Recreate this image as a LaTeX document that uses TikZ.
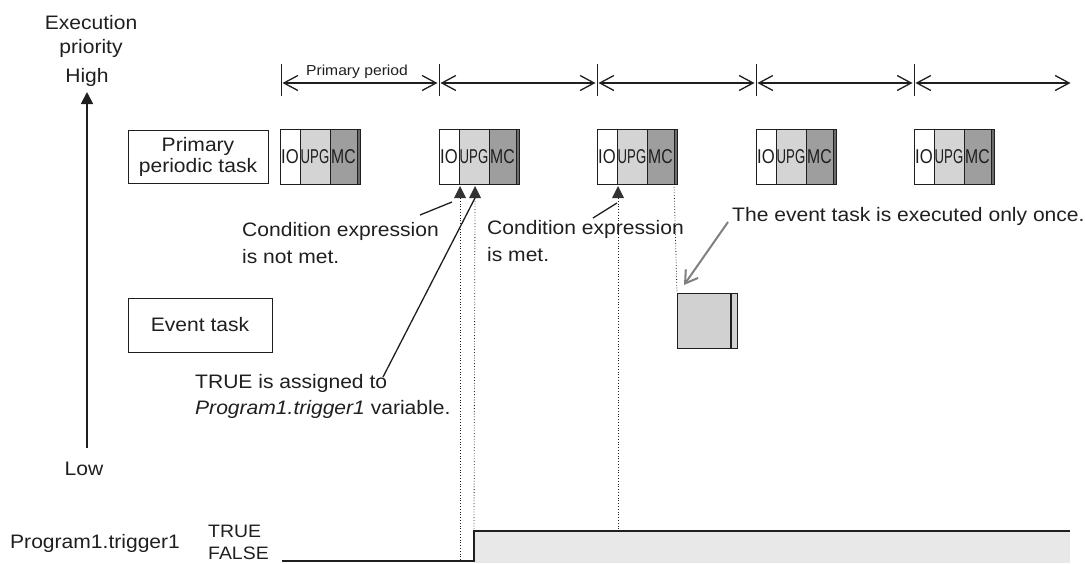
\documentclass[tikz,border=0pt]{standalone}
\usepackage{fontspec}
\setmainfont{Liberation Sans}[FakeStretch=1.08]
\usetikzlibrary{arrows.meta}
\definecolor{upg}{gray}{0.83}
\definecolor{mcg}{gray}{0.62}
\definecolor{stripg}{gray}{0.42}
\definecolor{evg}{gray}{0.82}
\definecolor{sigfill}{gray}{0.91}
\definecolor{arrg}{gray}{0.5}
\definecolor{trig}{gray}{0.2}
\definecolor{ink}{gray}{0.12}
\tikzset{
  cell/.style={draw=ink, line width=0.9pt, minimum height=55pt, inner sep=0pt, outer sep=0pt,
    anchor=north west, font=\fontsize{20}{20}\selectfont, text=ink},
  lbl/.style={inner sep=0pt, font=\fontsize{19.5}{27}\selectfont, align=left, text=ink},
  taskbox/.style={draw=ink, line width=1pt, inner sep=0pt, align=center,
    font=\fontsize{19.5}{21}\selectfont, text=ink},
  period/.style={{Straight Barb[length=14pt,width=15pt]}-{Straight Barb[length=14pt,width=15pt]},
    line width=1.3pt, draw=ink},
  tick/.style={line width=1pt, draw=ink},
  leader/.style={line width=1.3pt, draw=ink},
  vdot/.style={dotted, line width=0.8pt, draw=ink},
  upmark/.style={fill=trig},
}
\newcommand\ptask[2]{%
  \node[cell, fill=white, minimum width=20pt] (#1io) at (#2,129) {\scalebox{0.77}[1]{IO}};
  \node[cell, fill=upg, minimum width=30pt] (#1upg) at (#1io.north east) {\scalebox{0.61}[1]{UPG}};
  \node[cell, fill=mcg, minimum width=27pt] (#1mc) at (#1upg.north east) {\scalebox{0.73}[1]{MC}};
  \node[cell, fill=stripg, minimum width=3pt] (#1st) at (#1mc.north east) {};
}
\newcommand\uptri[2]{%
  \fill[upmark] (#2,186) -- ++(-6,12) -- ++(12,0) -- cycle;
  \coordinate (#1) at (#2,198);
}
\begin{document}
\begin{tikzpicture}[x=1pt,y=-1pt]
\useasboundingbox (0,0) rectangle (1085,563);

% priority axis
\node[lbl, align=center, anchor=north, font=\fontsize{19.5}{24}\selectfont] (ep) at (91,15) {Execution\\priority};
\node[lbl] (high) at (87,77) {High};
\node[lbl] (low) at (84,469) {Low};
\coordinate (axb) at (87,448);
\coordinate (axt) at (87,92);
\draw[line width=1.8pt, draw=ink, -{Triangle[length=12pt,width=12pt]}] (axb) -- (axt);

% task boxes on the left
\node[taskbox, minimum width=140pt, minimum height=53pt] (ppt) at (198,156.5) {Primary\\periodic task};
\node[taskbox, minimum width=144pt, minimum height=54pt] (evt) at (200,325) {Event task};

% primary periods
\foreach \i/\x in {1/281,2/439,3/597,4/756,5/914} {
  \coordinate (t\i) at (\x,83);
  \draw[tick] (\x,64) -- (\x,96);
}
\coordinate (t6) at (1072,83);
\foreach \a/\b in {1/2,2/3,3/4,4/5,5/6}
  \draw[period, shorten <=1.5pt, shorten >=1.5pt] (t\a) -- (t\b);
\node[anchor=base, inner sep=0pt, font=\fontsize{14.5}{16}\selectfont, text=ink] (pp) at (357,75) {Primary period};

% primary periodic task executions
\ptask{a}{280}
\ptask{b}{439}
\ptask{c}{597}
\ptask{d}{756}
\ptask{e}{914}

% event task execution
\node[draw=ink, line width=0.9pt, fill=evg, minimum width=53pt, minimum height=55pt, inner sep=0pt, anchor=north west] (ev1) at (677,293) {};
\node[draw=ink, line width=0.9pt, fill=evg, minimum width=6pt, minimum height=55pt, inner sep=0pt, anchor=north west] (ev1s) at (ev1.north east) {};

% signal
\coordinate (fs) at (282,561);
\coordinate (fe) at (474,561);
\coordinate (ts) at (474,531);
\coordinate (te) at (1070,531);
\fill[sigfill] (ts) rectangle (1070,563);
\draw[line width=1.4pt, draw=ink] (fs) -- (fe) -- (ts) -- (te);

% trigger marks and dotted lines
\uptri{m1}{460}
\uptri{m2}{475}
\uptri{m3}{618}
\draw[vdot] (m1) -- (460,561);
\draw[vdot] (m2) -- (ts);
\draw[vdot] (m3) -- (618,531);
\draw[vdot] (cst.south west) -- (ev1.north west);

% labels
\node[lbl, anchor=north west] (cnm) at (242,222) {Condition expression\\is not met.};
\node[lbl, anchor=north west] (cm) at (487,220) {Condition expression\\is met.};
\node[lbl, anchor=north west, font=\fontsize{19.5}{26}\selectfont] (tru) at (195,374) {TRUE is assigned to\\\textit{Program1.trigger1} variable.};
\node[lbl, anchor=west] (once) at (732,216) {The event task is executed only once.};

% leaders
\coordinate (l1a) at (420,215); \coordinate (l1b) at (452,202);
\coordinate (l2a) at (383,377);
\coordinate (l3a) at (593,218); \coordinate (l3b) at (617,203);
\coordinate (l4a) at (728,222); \coordinate (l4b) at (684,285);
\draw[leader] (l1a) -- (l1b);
\draw[leader] (l2a) -- (m2);
\draw[leader] (l3a) -- (l3b);
\draw[draw=arrg, line width=2pt, -{Straight Barb[length=12pt,width=15pt]}] (l4a) -- (l4b);

% signal labels
\node[lbl, anchor=west] (sig) at (10,543) {Program1.trigger1};
\node[anchor=west, inner sep=0pt, font=\fontsize{18}{20}\selectfont, text=ink] (tl) at (208,531) {TRUE};
\node[anchor=west, inner sep=0pt, font=\fontsize{18}{20}\selectfont, text=ink] (fl) at (208,553) {FALSE};
\end{tikzpicture}
\end{document}
